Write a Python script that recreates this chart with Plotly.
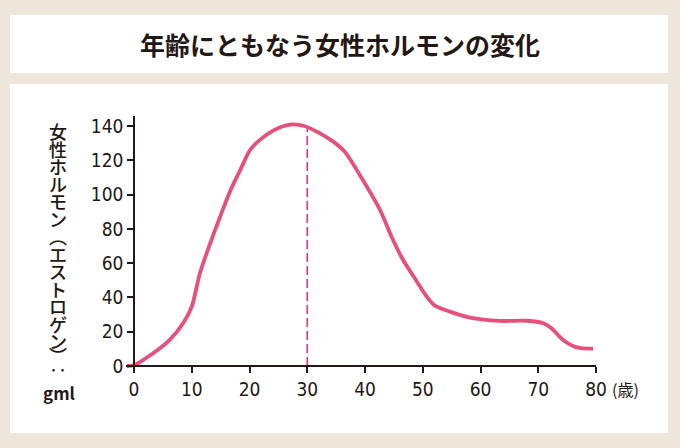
import plotly.graph_objects as go

# data
age = [-1.2, 0, 3.3, 6.2, 8.5, 10, 11.4, 13.2, 14.9, 16.6, 18.4, 20.1, 21.8, 24.1, 27,
       29.5, 32.2, 34.5, 36.5, 39.1, 42.6, 44.6, 46.6, 49, 50.7, 52.1, 54.7, 58.2,
       63.4, 68, 70.9, 72.3, 74.3, 76.7, 79.5]
estrogen = [0, 0.4, 7.4, 15.2, 24.9, 34.6, 54, 71.6, 87, 101.7, 114.4, 126, 131.9, 137.3,
            140.8, 140, 135.7, 130.9, 125, 111.4, 91, 75.4, 61.8, 49.2, 40.4, 35.2, 31.7,
            28.2, 26.3, 26.4, 24.9, 22, 15.2, 10.9, 10.1]
peak_age = [30, 30]
peak_level = [0, 140]

x_ticks = [0, 10, 20, 30, 40, 50, 60, 70, 80]
y_ticks = [0, 20, 40, 60, 80, 100, 120, 140]

title_text = "年齢にともなう女性ホルモンの変化"
y_label_chars = ["女", "性", "ホ", "ル", "モ", "ン", "︵", "エ", "ス", "ト", "ロ", "ゲ", "ン", "︶", "‥"]
y_label_unit = "gml"
x_label_unit = "(歳)"

# ---------------------------------------------------------------- layout geometry
FIG_W, FIG_H = 680, 448
L, R, T, B = 126, 84, 116, 79
W = FIG_W - L - R
H = FIG_H - T - B
X0_PX, X80_PX = 134, 596
Y0_PX, Y140_PX = 366, 126
sx = (X80_PX - X0_PX) / 80
sy = (Y0_PX - Y140_PX) / 140
x_range = [(L - X0_PX) / sx, (L + W - X0_PX) / sx]
y_range = [(Y0_PX - (T + H)) / sy, (Y0_PX - T) / sy]


def px_x(p):
    return (p - L) / W


def px_y(p):
    return (T + H - p) / H


INK = "#231815"
PINK = "#e6507b"
DASH_PINK = "#e2347a"
BEIGE = "#eee6db"
JP_FONT = "Noto Sans CJK JP, sans-serif"
NUM_FONT = "DejaVu Sans Condensed, Liberation Sans Narrow, Roboto, sans-serif"

fig = go.Figure()
fig.add_trace(go.Scatter(
    x=peak_age, y=peak_level, mode="lines",
    line=dict(color=DASH_PINK, width=1.6, dash="9px,4px"),
    hoverinfo="skip", showlegend=False,
))
fig.add_trace(go.Scatter(
    x=age, y=estrogen, mode="lines",
    line=dict(color=PINK, width=3.8, shape="spline", smoothing=0.8),
    showlegend=False,
))

axis_common = dict(
    showline=True, linecolor=INK, linewidth=1.5,
    ticks="outside", ticklen=6, tickwidth=1.5, tickcolor=INK,
    showgrid=False, zeroline=False, anchor="free",
    tickfont=dict(family=NUM_FONT, size=19, color=INK),
)
fig.update_xaxes(range=x_range, tickvals=x_ticks, position=px_y(Y0_PX), **axis_common)
fig.update_yaxes(range=y_range, tickvals=y_ticks, position=px_x(X0_PX), **axis_common)

# white panels
fig.add_shape(type="rect", xref="paper", yref="paper", layer="below",
              x0=px_x(10), x1=px_x(668), y0=px_y(73), y1=px_y(15),
              fillcolor="white", line_width=0)
fig.add_shape(type="rect", xref="paper", yref="paper", layer="below",
              x0=px_x(10), x1=px_x(668), y0=px_y(433), y1=px_y(84),
              fillcolor="white", line_width=0)

fig.add_annotation(
    text=title_text, xref="paper", yref="paper", x=px_x(340), y=px_y(44),
    xanchor="center", yanchor="middle", showarrow=False,
    font=dict(family=JP_FONT, size=25, color=INK, weight="bold"),
)

# vertical y-axis title, one glyph per line
for i, ch in enumerate(y_label_chars):
    yp = 131 + i * 17.5 if i < 13 else 341 + (i - 12) * 14
    fig.add_annotation(
        text=ch, xref="paper", yref="paper", x=px_x(58), y=px_y(yp),
        xanchor="center", yanchor="middle", showarrow=False,
        font=dict(family=JP_FONT, size=18, color=INK, weight=500),
    )
fig.add_annotation(
    text=y_label_unit, xref="paper", yref="paper", x=px_x(59), y=px_y(392),
    xanchor="center", yanchor="middle", showarrow=False,
    font=dict(family=JP_FONT, size=17, color=INK, weight="bold"),
)
fig.add_annotation(
    text=x_label_unit, xref="paper", yref="paper", x=px_x(610), y=px_y(389),
    xanchor="left", yanchor="middle", showarrow=False,
    font=dict(family=JP_FONT, size=16, color=INK),
)

fig.update_layout(
    width=FIG_W, height=FIG_H,
    margin=dict(l=L, r=R, t=T, b=B, pad=0),
    paper_bgcolor=BEIGE,
    plot_bgcolor="rgba(0,0,0,0)",
    showlegend=False,
    hovermode="closest",
)

fig.write_html("out.html", config={"displayModeBar": False},
               post_script="document.body.style.margin='0';")
